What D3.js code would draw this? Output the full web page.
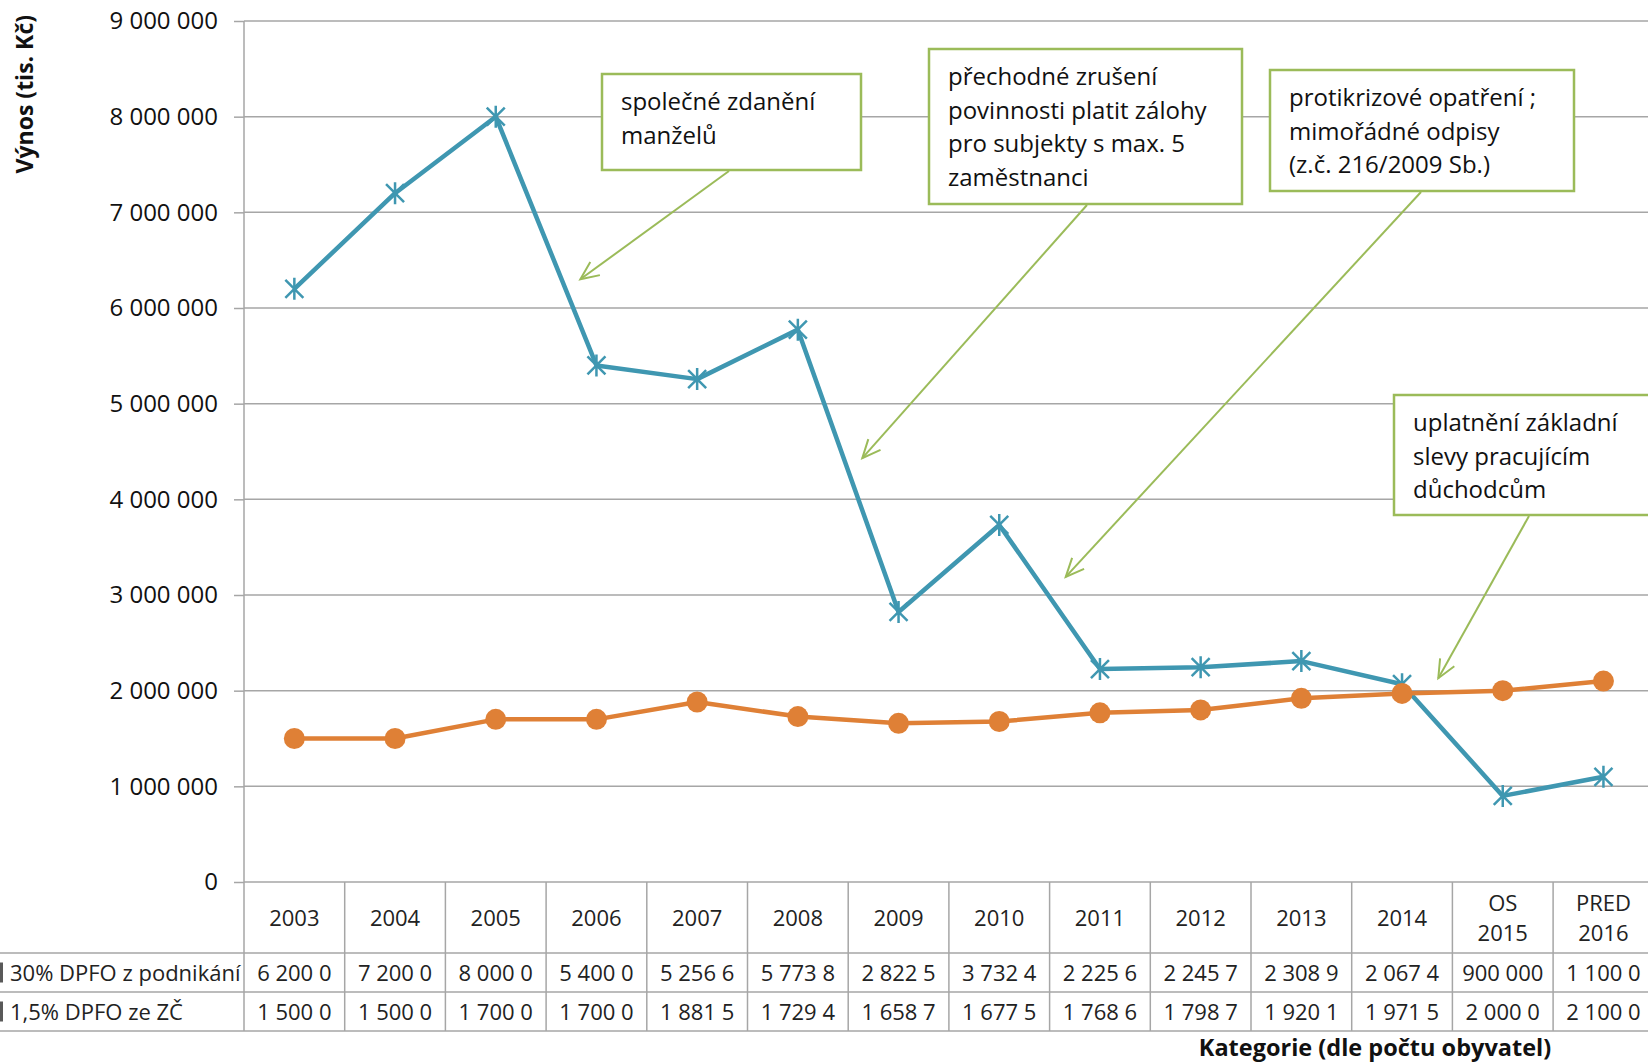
<!DOCTYPE html>
<html>
<head>
<meta charset="utf-8">
<script src="https://cdn.jsdelivr.net/npm/d3@7"></script>
<style>
  body { margin: 0; background: #fff; }
  svg { display: block; font-family: 'Open Sans', sans-serif; }
</style>
</head>
<body>
<div id="chart"></div>
<script>
const categories = ['2003', '2004', '2005', '2006', '2007', '2008', '2009', '2010',
  '2011', '2012', '2013', '2014', 'OS\n2015', 'PRED\n2016']

const seriesNames = ['30% DPFO z podnikání', '1,5% DPFO ze ZČ']

const podnikani = [6200000, 7200000, 8000000, 5400000, 5256600, 5773800, 2822500,
  3732400, 2225600, 2245700, 2308900, 2067400, 900000, 1100000]

const zc = [1500000, 1500000, 1700000, 1700000, 1881500, 1729400, 1658700,
  1677500, 1768600, 1798700, 1920100, 1971500, 2000000, 2100000]

const yTicks = [0, 1000000, 2000000, 3000000, 4000000, 5000000, 6000000, 7000000, 8000000, 9000000]

const notes = [
  ['společné zdanění', 'manželů'],
  ['přechodné zrušení', 'povinnosti platit zálohy', 'pro subjekty s max. 5', 'zaměstnanci'],
  ['protikrizové opatření ;', 'mimořádné odpisy', '(z.č. 216/2009 Sb.)'],
  ['uplatnění základní', 'slevy pracujícím', 'důchodcům']
]
// where each arrow points, in category index / value
const noteTargets = [[2.84, 6300000], [5.64, 4430000], [7.66, 3190000], [11.36, 2130000]]

const width = 1648
const height = 1064
const margin = { top: 21, left: 244 }
const plotBottom = 882
const bandW = 100.7
const rowY = [953, 992, 1031]

const blue = '#3f97b1'
const orange = '#df8036'
const green = '#9bbb59'
const gridColor = '#a6a6a6'

const svg = d3.select('#chart').append('svg')
  .attr('width', width)
  .attr('height', height)

const x = d3.scaleBand()
  .domain(d3.range(categories.length))
  .range([margin.left, margin.left + bandW * categories.length])
  .padding(0)

const y = d3.scaleLinear()
  .domain([0, 9000000])
  .range([plotBottom, margin.top])

const xi = i => x(Math.floor(i)) + x.bandwidth() * (0.5 + i - Math.floor(i))

const fmt = d3.formatLocale({ decimal: ',', thousands: ' ', grouping: [3], currency: ['', ''] }).format(',')

// gridlines + ticks
const yAxis = d3.axisLeft(y)
  .tickValues(yTicks)
  .tickFormat(fmt)
  .tickSize(10)
  .tickPadding(16)

const yg = svg.append('g')
  .attr('transform', `translate(${margin.left},0)`)
  .call(yAxis)
yg.select('.domain').remove()
yg.selectAll('.tick line').attr('stroke', gridColor).attr('stroke-width', 1.5)
yg.selectAll('.tick text')
  .attr('font-size', 24)
  .attr('font-family', 'Open Sans')
  .attr('fill', '#111')

svg.append('g')
  .selectAll('line')
  .data(yTicks)
  .enter()
  .append('line')
  .attr('x1', margin.left)
  .attr('x2', width)
  .attr('y1', d => y(d))
  .attr('y2', d => y(d))
  .attr('stroke', gridColor)
  .attr('stroke-width', 1.5)

// data table
const table = svg.append('g')

table.selectAll('.row-line')
  .data(rowY)
  .enter()
  .append('line')
  .attr('x1', 0)
  .attr('x2', width)
  .attr('y1', d => d)
  .attr('y2', d => d)
  .attr('stroke', gridColor)
  .attr('stroke-width', 1.5)

table.selectAll('.col-line')
  .data(d3.range(categories.length + 1))
  .enter()
  .append('line')
  .attr('x1', i => margin.left + i * x.bandwidth())
  .attr('x2', i => margin.left + i * x.bandwidth())
  .attr('y1', i => i === 0 ? margin.top : plotBottom)
  .attr('y2', rowY[2])
  .attr('stroke', gridColor)
  .attr('stroke-width', 1.5)

// category header
table.selectAll('.cat')
  .data(categories)
  .enter()
  .append('text')
  .attr('text-anchor', 'middle')
  .attr('font-size', 22)
  .attr('fill', '#222')
  .each(function(d, i) {
    const lines = d.split('\n')
    const t = d3.select(this)
    lines.forEach((l, k) => {
      t.append('tspan')
        .attr('x', xi(i))
        .attr('y', 926 + (k - (lines.length - 1) / 2) * 30)
        .text(l)
    })
  })

// row labels
seriesNames.forEach((name, r) => {
  const cy = (r === 0 ? (rowY[0] + rowY[1]) : (rowY[1] + rowY[2])) / 2
  table.append('rect')
    .attr('x', 0).attr('y', cy - 10).attr('width', 3).attr('height', 20)
    .attr('fill', '#595959')
  table.append('text')
    .attr('x', 10)
    .attr('y', cy + 8)
    .attr('font-size', 22)
    .attr('fill', '#222')
    .text(name)
})

// row values, cut to cell width like the original table
const maxW = 84
;[podnikani, zc].forEach((vals, r) => {
  const cy = (r === 0 ? (rowY[0] + rowY[1]) : (rowY[1] + rowY[2])) / 2
  table.selectAll('.val' + r)
    .data(vals)
    .enter()
    .append('text')
    .attr('x', (d, i) => xi(i))
    .attr('y', cy + 8)
    .attr('text-anchor', 'middle')
    .attr('font-size', 22)
    .attr('fill', '#222')
    .text(d => fmt(d))
    .each(function() {
      const t = d3.select(this)
      let s = t.text()
      while (this.getComputedTextLength() > maxW && s.length > 1) {
        s = s.slice(0, -1).trimEnd()
        t.text(s)
      }
    })
})

// lines
const line = d3.line()
  .x((d, i) => xi(i))
  .y(d => y(d))

svg.append('path')
  .datum(podnikani)
  .attr('d', line)
  .attr('fill', 'none')
  .attr('stroke', blue)
  .attr('stroke-width', 4.5)
  .attr('stroke-linejoin', 'round')

svg.append('path')
  .datum(zc)
  .attr('d', line)
  .attr('fill', 'none')
  .attr('stroke', orange)
  .attr('stroke-width', 4.5)
  .attr('stroke-linejoin', 'round')

svg.selectAll('.star')
  .data(podnikani)
  .enter()
  .append('path')
  .attr('class', 'star')
  .attr('transform', (d, i) => `translate(${xi(i)},${y(d)})`)
  .attr('d', 'M-9,-9L9,9M9,-9L-9,9M0,-11L0,11')
  .attr('stroke', blue)
  .attr('stroke-width', 2.5)
  .attr('fill', 'none')

svg.selectAll('.dot')
  .data(zc)
  .enter()
  .append('circle')
  .attr('cx', (d, i) => xi(i))
  .attr('cy', d => y(d))
  .attr('r', 10.5)
  .attr('fill', orange)

// annotations
const boxes = [
  { x: 602, y: 74, w: 259, h: 96, sx: 729, sy: 171 },
  { x: 929, y: 49, w: 313, h: 155, sx: 1087, sy: 205 },
  { x: 1270, y: 70, w: 304, h: 121, sx: 1421, sy: 192 },
  { x: 1394, y: 395, w: 280, h: 120, sx: 1529, sy: 516 }
]

const ann = svg.append('g')

notes.forEach((lines, k) => {
  const b = boxes[k]
  const tx = xi(noteTargets[k][0])
  const ty = y(noteTargets[k][1])
  const ang = Math.atan2(ty - b.sy, tx - b.sx)
  const hl = 20
  const spread = 0.42

  ann.append('line')
    .attr('x1', b.sx).attr('y1', b.sy)
    .attr('x2', tx).attr('y2', ty)
    .attr('stroke', green)
    .attr('stroke-width', 2)
  ann.append('path')
    .attr('d', `M${tx - hl * Math.cos(ang - spread)},${ty - hl * Math.sin(ang - spread)}` +
      `L${tx},${ty}L${tx - hl * Math.cos(ang + spread)},${ty - hl * Math.sin(ang + spread)}`)
    .attr('fill', 'none')
    .attr('stroke', green)
    .attr('stroke-width', 2)

  ann.append('rect')
    .attr('x', b.x).attr('y', b.y)
    .attr('width', b.w).attr('height', b.h)
    .attr('fill', '#fff')
    .attr('stroke', green)
    .attr('stroke-width', 2.5)

  const t = ann.append('text')
    .attr('font-size', 24)
    .attr('fill', '#111')
  lines.forEach((l, j) => {
    t.append('tspan')
      .attr('x', b.x + 19)
      .attr('y', b.y + 36 + j * 33.5)
      .text(l)
  })
})

// axis titles
svg.append('text')
  .attr('transform', 'translate(33,15) rotate(-90)')
  .attr('text-anchor', 'end')
  .attr('font-size', 23)
  .attr('font-weight', 'bold')
  .attr('fill', '#111')
  .text('Výnos (tis. Kč)')

svg.append('text')
  .attr('x', 1375)
  .attr('y', 1056)
  .attr('text-anchor', 'middle')
  .attr('font-size', 23.5)
  .attr('font-weight', 'bold')
  .attr('fill', '#111')
  .text('Kategorie (dle počtu obyvatel)')
</script>
</body>
</html>
